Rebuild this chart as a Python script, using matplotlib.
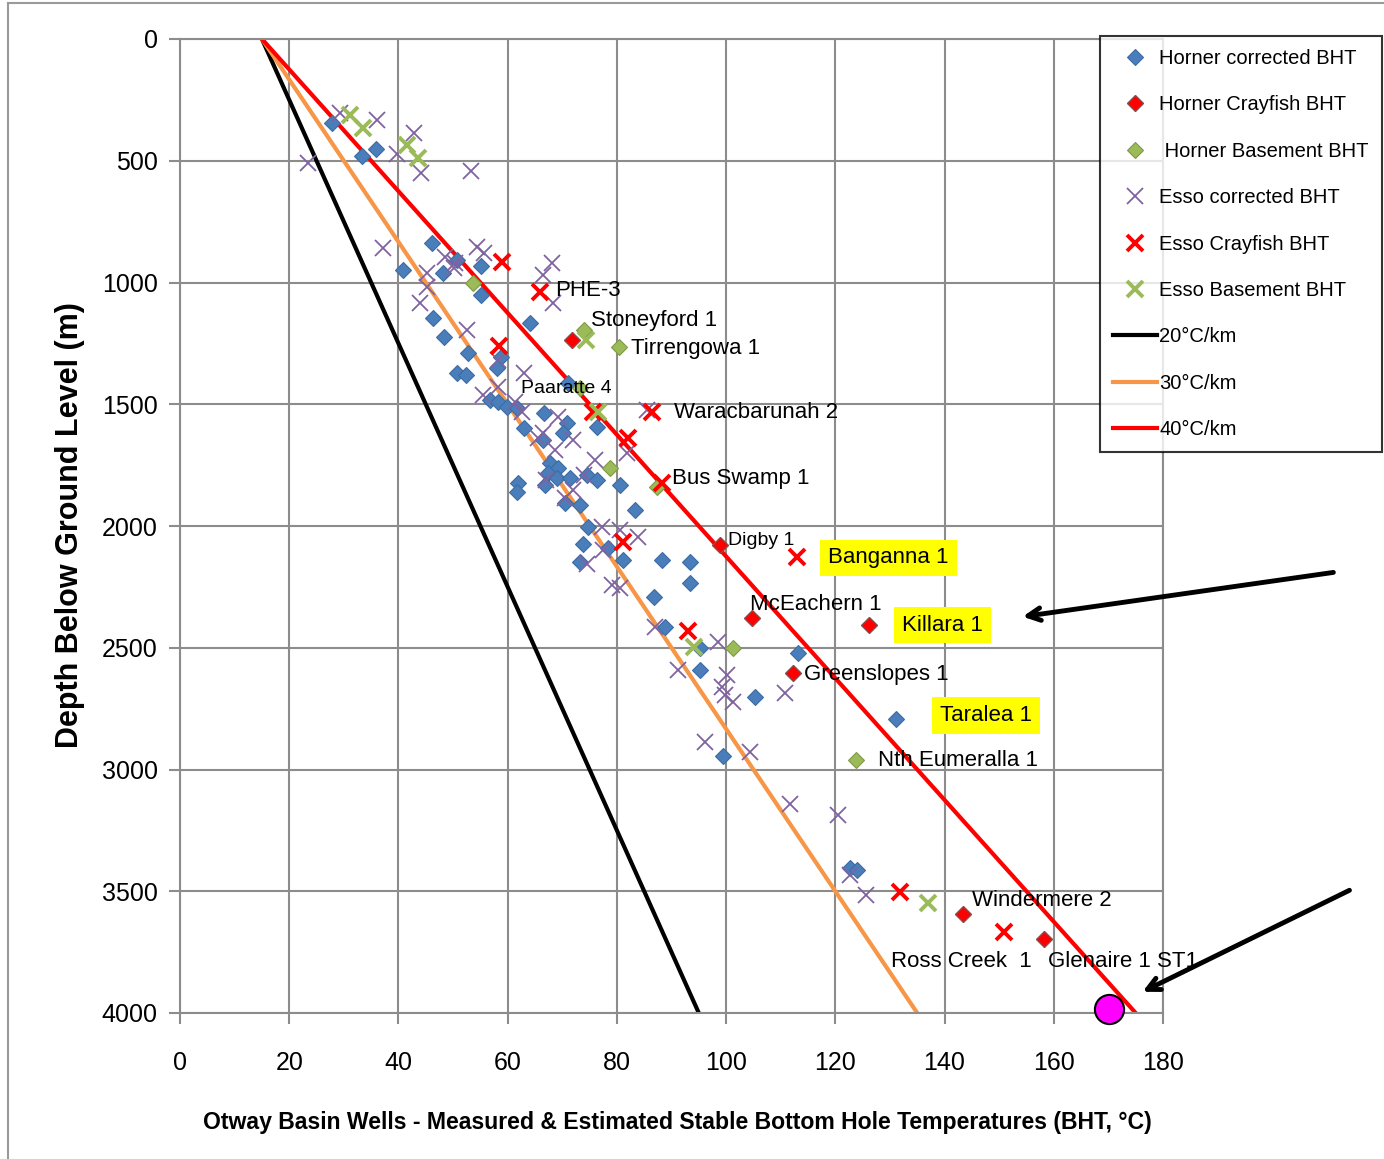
import matplotlib
matplotlib.use("Agg")
import matplotlib.pyplot as plt
from matplotlib.lines import Line2D

plt.rcParams['font.family'] = ['Liberation Sans', 'DejaVu Sans']

# ---------------- data ----------------
horner_corr_t = [27.8, 33.3, 35.8, 46.2, 40.9, 48.2, 50.7, 55.2, 55.2, 64.1, 46.3, 48.4, 52.8, 50.8, 52.4,
                 58.7, 58.1, 56.8, 58.3, 59.8, 61.7, 66.6, 62.9, 71.1, 70.9, 70.2, 76.3, 66.5, 67.8, 69.3,
                 67.4, 69.0, 71.4, 66.8, 61.9, 61.7, 74.5, 76.3, 80.6, 70.5, 73.2, 83.3, 74.8, 73.8, 78.4,
                 73.2, 81.2, 88.2, 93.3, 93.3, 86.8, 88.8, 95.3, 95.3, 105.3, 113.2, 131.2, 99.4, 122.7, 123.9]
horner_corr_d = [346, 480, 450, 839, 949, 962, 908, 932, 1051, 1165, 1147, 1225, 1291, 1373, 1380,
                 1305, 1352, 1483, 1490, 1510, 1517, 1535, 1599, 1414, 1575, 1619, 1592, 1647, 1743, 1763,
                 1784, 1804, 1804, 1832, 1825, 1859, 1791, 1811, 1832, 1907, 1914, 1934, 2003, 2075, 2092,
                 2147, 2140, 2140, 2147, 2236, 2293, 2413, 2503, 2592, 2701, 2523, 2794, 2945, 3406, 3413]

horner_cray_t = [71.7, 98.9, 104.7, 112.3, 126.2, 143.3, 158.3]
horner_cray_d = [1236, 2078, 2379, 2602, 2407, 3594, 3698]

horner_base_t = [53.7, 73.9, 80.4, 73.2, 78.7, 87.3, 101.3, 123.8]
horner_base_d = [1003, 1195, 1264, 1434, 1763, 1839, 2503, 2961]

esso_corr_t = [29.3, 36.0, 23.5, 42.9, 39.8, 44.1, 53.2, 37.1, 54.3, 55.7, 48.6, 50.4, 45.2, 45.2, 44.0,
               68.1, 66.5, 68.3, 50.2, 52.6, 58.2, 63.0, 55.5, 58.3, 61.3, 62.6, 69.3, 85.5, 66.5, 65.6,
               72.0, 68.7, 81.8, 67.1, 76.0, 73.9, 72.0, 70.5, 77.2, 80.6, 83.9, 77.5, 74.5, 79.1, 80.6,
               87.0, 98.6, 91.1, 100.1, 99.2, 99.8, 101.3, 110.8, 96.1, 104.4, 111.7, 120.5, 122.7, 125.6]
esso_corr_d = [305, 333, 511, 385, 472, 552, 542, 860, 853, 880, 894, 921, 962, 1017, 1084,
               921, 969, 1085, 941, 1195, 1318, 1373, 1462, 1428, 1490, 1530, 1551, 1524, 1619, 1640,
               1647, 1688, 1702, 1811, 1729, 1791, 1852, 1886, 2003, 2017, 2044, 2099, 2155, 2243, 2256,
               2413, 2475, 2592, 2612, 2660, 2694, 2722, 2687, 2886, 2927, 3143, 3187, 3433, 3515]

esso_cray_t = [58.9, 65.9, 58.5, 75.7, 86.4, 82.1, 88.2, 81.2, 93.1, 112.9, 131.8, 150.9]
esso_cray_d = [915, 1038, 1261, 1530, 1530, 1640, 1825, 2065, 2430, 2126, 3502, 3666]

esso_base_t = [31.1, 33.6, 41.5, 43.6, 74.3, 76.6, 94.1, 137.0]
esso_base_d = [312, 367, 435, 490, 1236, 1530, 2496, 3547]

surface_temp = 15.0
gradients = [20, 30, 40]          # degC / km
grad_labels = ['20°C/km', '30°C/km', '40°C/km']
max_depth = 4000

target_t = [170.2]
target_d = [3985]

well_names = ['PHE-3', 'Stoneyford 1', 'Tirrengowa 1', 'Paaratte 4', 'Waracbarunah 2', 'Bus Swamp 1',
              'Digby 1', 'Banganna 1', 'McEachern 1', 'Killara 1', 'Greenslopes 1', 'Taralea 1',
              'Nth Eumeralla 1', 'Windermere 2', 'Ross Creek  1', 'Glenaire 1 ST1']
well_t = [68.7, 75.3, 82.6, 62.4, 90.5, 90.1, 100.3, 118.7, 104.4, 132.2, 114.3, 139.2, 127.8, 145.0, 130.2, 159.0]
well_d = [1031, 1158, 1273, 1437, 1532, 1803, 2058, 2131, 2324, 2407, 2608, 2778, 2961, 3540, 3790, 3790]
highlighted = ['Banganna 1', 'Killara 1', 'Taralea 1']
small_labels = ['Paaratte 4', 'Digby 1']

# ---------------- figure ----------------
W, H = 1384, 1159
fig = plt.figure(figsize=(W / 100, H / 100), dpi=100)
ax = fig.add_axes([180 / W, 1 - 1013 / H, (1163 - 180) / W, (1013 - 39) / H])

# outer chart border
fig.add_artist(Line2D([8 / W, 8 / W], [0, 1 - 3 / H], color='#9a9a9a', lw=1.5, transform=fig.transFigure))
fig.add_artist(Line2D([8 / W, 1], [1 - 3 / H, 1 - 3 / H], color='#9a9a9a', lw=1.5, transform=fig.transFigure))

grid_c = '#8c8c8c'
ax.set_xlim(0, 180)
ax.set_ylim(4000, 0)
ax.set_xticks(range(0, 181, 20))
ax.set_yticks(range(0, 4001, 500))
ax.grid(True, color=grid_c, lw=1.5)
ax.set_axisbelow(True)
for s in ax.spines.values():
    s.set_color(grid_c)
    s.set_linewidth(1.5)
ax.tick_params(axis='both', colors=grid_c, length=8, width=1.5, labelcolor='black', labelsize=18)
ax.tick_params(axis='x', pad=19)
ax.tick_params(axis='y', pad=8)

# gradient lines
grad_colors = ['black', '#f79646', '#ff0000']
grad_handles = []
for g, c, lab in zip(gradients, grad_colors, grad_labels):
    ln, = ax.plot([surface_temp, surface_temp + g * max_depth / 1000], [0, max_depth], color=c, lw=3,
                  label=lab, zorder=2)
    grad_handles.append(ln)

# series
h1, = ax.plot(horner_corr_t, horner_corr_d, 'D', ms=8.5, color='#4a7ebb', mec='#3d6ca3', mew=0.8, ls='none',
              zorder=3, label='Horner corrected BHT')
h2, = ax.plot(horner_cray_t, horner_cray_d, 'D', ms=8.5, color='#ff0000', mec='#8c4a4a', mew=1.0, ls='none',
              zorder=4, label='Horner Crayfish BHT')
h3, = ax.plot(horner_base_t, horner_base_d, 'D', ms=8.5, color='#9bbb59', mec='#7f9a48', mew=0.8, ls='none',
              zorder=4, label=' Horner Basement BHT')
h4, = ax.plot(esso_corr_t, esso_corr_d, 'x', ms=12, color='#7f63a1', mew=1.3, ls='none', zorder=3,
              label='Esso corrected BHT')
h5, = ax.plot(esso_cray_t, esso_cray_d, 'x', ms=12, color='#ff0000', mew=2.8, ls='none', zorder=4,
              label='Esso Crayfish BHT')
h6, = ax.plot(esso_base_t, esso_base_d, 'x', ms=12, color='#9bbb59', mew=2.8, ls='none', zorder=4,
              label='Esso Basement BHT')

ax.plot(target_t, target_d, 'o', ms=21, color='#ff00ff', mec='black', mew=1.5, ls='none', zorder=6, clip_on=False)

# well labels
for name, t, d in zip(well_names, well_t, well_d):
    fs = 14 if name in small_labels else 16
    if name in highlighted:
        ax.text(t, d, name, fontsize=fs, ha='left', va='center', zorder=7,
                bbox=dict(boxstyle='square,pad=0.35', facecolor='#ffff00', edgecolor='none'))
    else:
        ax.text(t, d, name, fontsize=fs, ha='left', va='center', zorder=5)

# arrows
arrow_kw = dict(arrowstyle='->,head_length=0.9,head_width=0.45', lw=3.5, color='black')
ax.annotate('', xy=(153.8, 2374), xytext=(211.7, 2189), arrowprops=arrow_kw, annotation_clip=False)
ax.annotate('', xy=(175.8, 3918), xytext=(214.6, 3491), arrowprops=arrow_kw, annotation_clip=False)

# axis labels
fig.text(70 / W, 1 - 525 / H, 'Depth Below Ground Level (m)', rotation=90, fontsize=22, fontweight='bold',
         ha='center', va='center')
fig.text(677 / W, 1 - 1122 / H, 'Otway Basin Wells - Measured & Estimated Stable Bottom Hole Temperatures (BHT, °C)',
         fontsize=16.6, fontweight='bold', ha='center', va='center')

# legend
handles = [h1, h2, h3, h4, h5, h6] + grad_handles
leg = fig.legend(handles=handles, loc='upper left', bbox_to_anchor=(1100 / W, 1 - 36 / H),
                 fontsize=14.5, frameon=True, fancybox=False, borderpad=0.65, labelspacing=1.36,
                 handlelength=2.2, handletextpad=0.1, borderaxespad=0)
leg.get_frame().set_edgecolor('black')
leg.get_frame().set_linewidth(1.5)

fig.savefig('out.png', dpi=100)
